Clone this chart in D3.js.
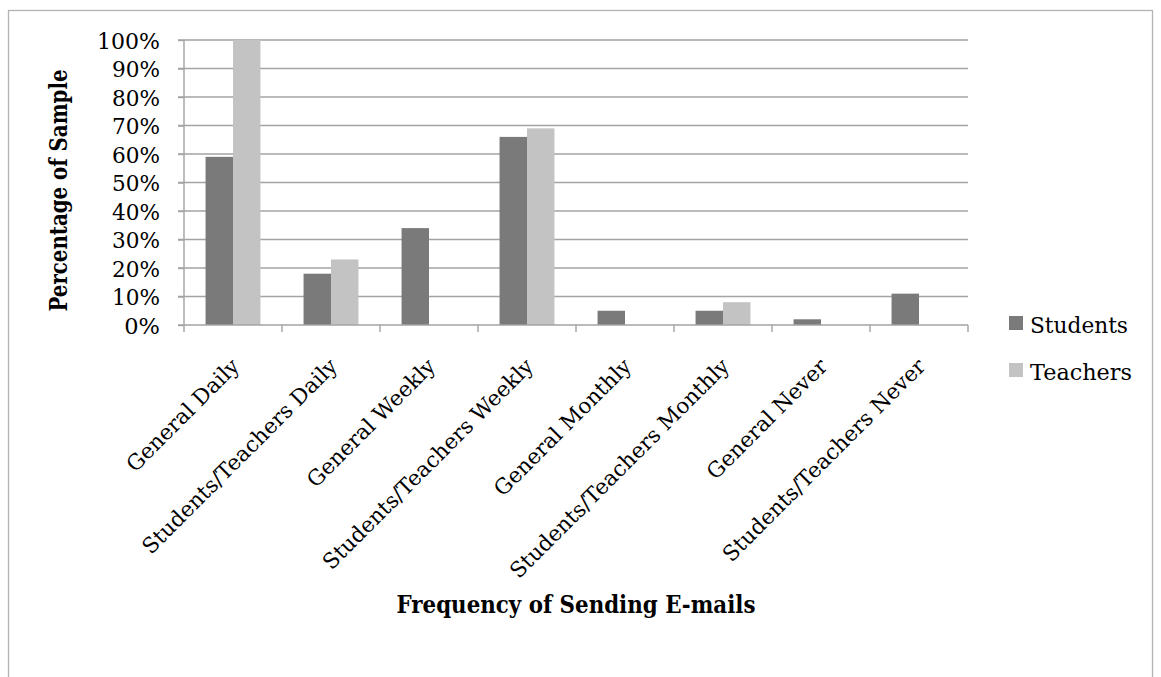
<!DOCTYPE html>
<html>
<head>
<meta charset="utf-8">
<script src="https://cdn.jsdelivr.net/npm/d3@7"></script>
<style>
  html, body { margin: 0; padding: 0; background: #fff; }
  svg { display: block; font-family: "DejaVu Serif", serif; }
</style>
</head>
<body>
<svg id="chart" width="1161" height="677"></svg>
<script>
// Share of respondents by e-mail sending frequency
const categories = [
  "General Daily",
  "Students/Teachers Daily",
  "General Weekly",
  "Students/Teachers Weekly",
  "General Monthly",
  "Students/Teachers Monthly",
  "General Never",
  "Students/Teachers Never"
];
const seriesNames = ["Students", "Teachers"];
const students = [59, 18, 34, 66, 5, 5, 2, 11];
const teachers = [100, 23, 0, 69, 0, 8, 0, 0];
const yTicks = [0, 10, 20, 30, 40, 50, 60, 70, 80, 90, 100];
const colors = ["#7a7a7a", "#c3c3c3"];

const rows = categories.map((c, i) => ({ cat: c, values: [students[i], teachers[i]] }));

const svg = d3.select("#chart");
const plot = { left: 184, right: 968, top: 40, bottom: 325 };

// outer frame
svg.append("rect")
  .attr("x", 8.5).attr("y", 10.5)
  .attr("width", 1144).attr("height", 700)
  .attr("fill", "none").attr("stroke", "#b3b3b3").attr("stroke-width", 1.3);

const x0 = d3.scaleBand().domain(categories).range([plot.left, plot.right]).padding(0);
const x1 = d3.scaleBand().domain(seriesNames)
  .range([0, x0.bandwidth()]).paddingOuter(0.785).paddingInner(0);
const y = d3.scaleLinear().domain([0, 100]).range([plot.bottom, plot.top]);
const color = d3.scaleOrdinal().domain(seriesNames).range(colors);

// horizontal gridlines
svg.append("g")
  .selectAll("line").data(yTicks.filter(t => t > 0)).join("line")
  .attr("x1", plot.left - 6).attr("x2", plot.right)
  .attr("y1", d => y(d)).attr("y2", d => y(d))
  .attr("stroke", "#a3a3a3").attr("stroke-width", 1.4);

// y axis
const yAxis = svg.append("g")
  .attr("transform", `translate(${plot.left},0)`)
  .call(d3.axisLeft(y).tickValues(yTicks).tickFormat(d => d + "%").tickSize(6).tickPadding(18));
yAxis.select(".domain").attr("stroke", "#a3a3a3").attr("stroke-width", 1.4)
  .attr("d", `M0,${plot.top}V${plot.bottom}`);
yAxis.selectAll(".tick line").attr("stroke", "#a3a3a3").attr("stroke-width", 1.4);
yAxis.selectAll(".tick text")
  .attr("fill", "#000").attr("font-size", 22.5).attr("font-family", "DejaVu Serif")
  .attr("textLength", 63).attr("lengthAdjust", "spacingAndGlyphs")
  .attr("dy", "0.36em");
// two-character labels keep their natural width
yAxis.selectAll(".tick text").filter(d => d < 10).attr("textLength", null);
yAxis.selectAll(".tick text").filter(d => d >= 10 && d < 100).attr("textLength", 48);

// bars
svg.append("g")
  .selectAll("g").data(rows).join("g")
  .attr("transform", d => `translate(${x0(d.cat)},0)`)
  .selectAll("rect").data(d => d.values.map((v, i) => ({ key: seriesNames[i], v })))
  .join("rect")
  .attr("x", d => x1(d.key))
  .attr("width", x1.bandwidth())
  .attr("y", d => y(d.v))
  .attr("height", d => y(0) - y(d.v))
  .attr("fill", d => color(d.key));

// x axis with category boundary ticks
const xAxis = svg.append("g").attr("transform", `translate(0,${plot.bottom})`);
xAxis.append("line")
  .attr("x1", plot.left - 6).attr("x2", plot.right)
  .attr("stroke", "#a3a3a3").attr("stroke-width", 1.4);
const boundaries = categories.map(c => x0(c)).concat([plot.right]);
xAxis.selectAll("line.tk").data(boundaries).join("line")
  .attr("class", "tk")
  .attr("x1", d => d).attr("x2", d => d)
  .attr("y1", 0).attr("y2", 7)
  .attr("stroke", "#a3a3a3").attr("stroke-width", 1.4);

xAxis.selectAll("text").data(categories).join("text")
  .attr("transform", d => `translate(${x0(d) + x0.bandwidth() / 2 - 3},${32}) rotate(-45)`)
  .attr("text-anchor", "end")
  .attr("dy", "0.7em")
  .attr("font-size", 21.5)
  .attr("fill", "#000")
  .text(d => d);

// axis titles
svg.append("text")
  .attr("transform", `translate(67,${(plot.top + plot.bottom) / 2 + 8}) rotate(-90)`)
  .attr("text-anchor", "middle")
  .attr("font-weight", "bold").attr("font-size", 24)
  .attr("textLength", 242).attr("lengthAdjust", "spacingAndGlyphs")
  .text("Percentage of Sample");

svg.append("text")
  .attr("x", (plot.left + plot.right) / 2).attr("y", 613)
  .attr("text-anchor", "middle")
  .attr("font-weight", "bold").attr("font-size", 24)
  .attr("textLength", 359).attr("lengthAdjust", "spacingAndGlyphs")
  .text("Frequency of Sending E-mails");

// legend
const legend = svg.append("g").attr("transform", "translate(1009,316)");
const items = legend.selectAll("g").data(seriesNames).join("g")
  .attr("transform", (d, i) => `translate(0,${i * 47})`);
items.append("rect").attr("width", 14).attr("height", 14).attr("fill", d => color(d));
items.append("text").attr("x", 21).attr("y", 17)
  .attr("font-size", 23).attr("fill", "#000")
  .attr("textLength", d => d === "Students" ? 98 : 102).attr("lengthAdjust", "spacingAndGlyphs")
  .text(d => d);
</script>
</body>
</html>
